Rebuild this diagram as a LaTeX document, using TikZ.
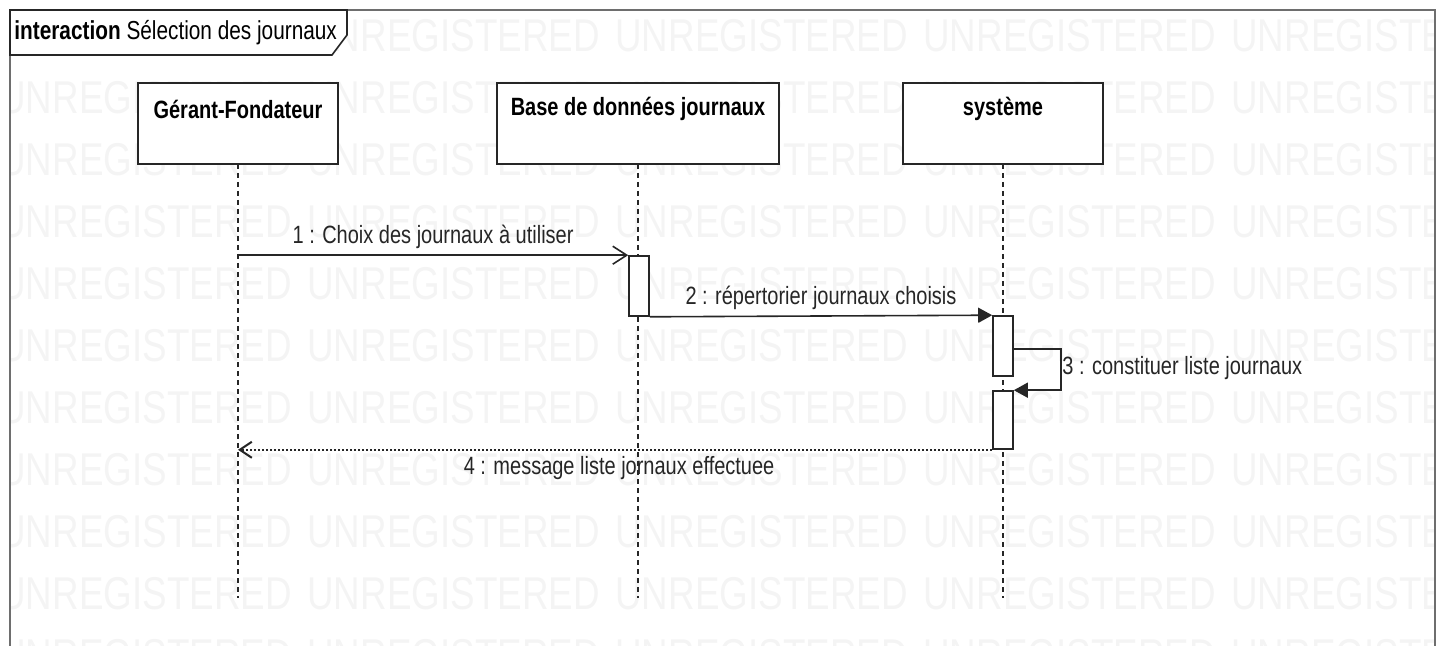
\documentclass[tikz,border=0pt]{standalone}
\usepackage{fontspec}
\setmainfont{Liberation Sans}[FakeStretch=0.8]
\usetikzlibrary{arrows.meta}
\definecolor{ln}{HTML}{262626}
\definecolor{wm}{HTML}{F4F4F4}
\definecolor{fr}{HTML}{6E6E6E}

\tikzset{
  head/.style={draw=ln,line width=1pt,fill=white,minimum height=40.5pt,inner sep=0pt},
  act/.style={draw=ln,line width=0.8pt,fill=white,minimum width=10pt,inner sep=0pt},
  life/.style={draw=ln,line width=0.7pt,dash pattern=on 2.5pt off 2pt},
  msg/.style={draw=ln,line width=0.8pt},
  reply/.style={draw=ln,line width=1pt,dash pattern=on 1pt off 1pt},
  lbl/.style={inner sep=1pt,text=ln},
  wmk/.style={anchor=west,inner sep=0pt,text=wm,font=\fontsize{23}{23}\selectfont}
}

\begin{document}
\begin{tikzpicture}[x=0.5pt,y=-0.5pt,font=\fontsize{12.5}{15}\selectfont]
\useasboundingbox (0,0) rectangle (1443,646);

% watermark
\begin{scope}
  \clip (11,11) rectangle (1434,646);
  \foreach \r in {0,...,10}
    \foreach \c in {0,...,4}
      \node[wmk] (w\r-\c) at ({-1+308*\c},{36+62*\r}) {UNREGISTERED};
\end{scope}

% frame
\draw[fr,line width=1pt] (10,646) -- (10,10) -- (1435,10) -- (1435,646);
\draw[ln,line width=0.8pt,fill=white] (10,10) -- (347,10) -- (347,35) -- (332,55) -- (10,55) -- cycle;
\node[anchor=west,inner sep=0pt,font=\fontsize{13}{15}\selectfont] (title) at (14,33)
  {\textbf{interaction} Sélection des journaux};

% lifelines
\draw[life] (238,164) -- (238,598);
\draw[life] (638,164) -- (638,598);
\draw[life] (1003,164) -- (1003,598);

\node[head,minimum width=100pt,label={[anchor=center,yshift=-13.5pt]north:{\bfseries Gérant-Fondateur}}] (ger) at (238,123.5) {};
\node[head,minimum width=141pt,label={[anchor=center,yshift=-13.5pt]north:{\bfseries Base de données journaux}}] (bdd) at (638,123.5) {};
\node[head,minimum width=100pt,label={[anchor=center,yshift=-13.5pt]north:{\bfseries système}}] (sys) at (1003,123.5) {};

% activations
\node[act,minimum height=30pt] (a1) at (639,286) {};
\node[act,minimum height=30pt] (a2) at (1003,346) {};
\node[act,minimum height=29pt] (a3) at (1003,420) {};

% messages
\draw[msg,-{Straight Barb[length=7pt,width=9pt]}] (a1.north west -| ger) -- (a1.north west)
  node[lbl,midway,above=2pt] (l1) {1 : Choix des journaux à utiliser};
\draw[msg,-{Triangle[length=7pt,width=7.5pt]}] (a1.south east) -- (a2.north west)
  node[lbl,midway,above=2pt] (l2) {2 : répertorier journaux choisis};
\draw[msg,-{Triangle[length=7pt,width=7.5pt]}] ([yshift=-1.5pt]a2.east) -- ++(47,0) |- (a3.north east);
\node[lbl,anchor=west] (l3) at (1060,368) {3 : constituer liste journaux};
\draw[reply,-{Straight Barb[length=6pt,width=8pt]}] (a3.south west) -- (a3.south west -| ger)
  node[lbl,midway,below=2pt,xshift=2pt] (l4) {4 : message liste jornaux effectuee};
\end{tikzpicture}
\end{document}
